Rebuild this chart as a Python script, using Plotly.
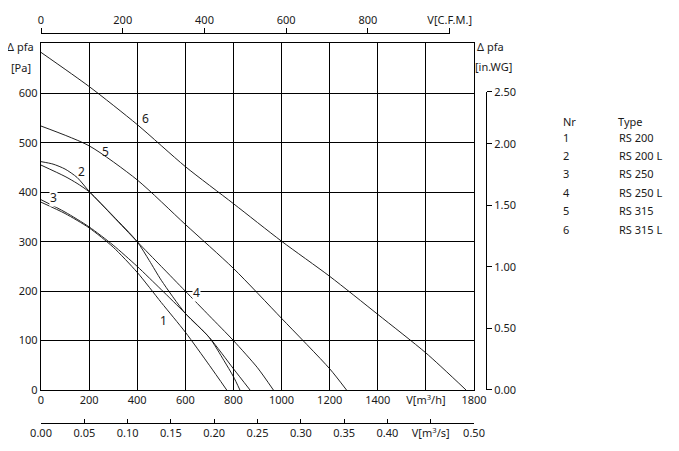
import plotly.graph_objects as go

# fan curves: volume flow V [m3/h] against static pressure rise [Pa]
flow_1 = [0, 100, 200, 300, 400, 500, 600, 700, 772]
dp_1 = [380, 357, 328, 289, 238, 177, 117, 50, 0]
flow_2 = [0, 50, 100, 150, 200, 300, 400, 450, 500, 600, 700, 760, 800, 827]
dp_2 = [462, 457, 447, 430, 402, 352, 300, 262, 222, 155, 106, 60, 27, 0]
flow_3 = [0, 100, 200, 300, 400, 500, 600, 700, 800, 869]
dp_3 = [385, 360, 330, 293, 250, 203, 155, 106, 43, 0]
flow_4 = [0, 100, 150, 200, 300, 400, 500, 600, 700, 800, 900, 966]
dp_4 = [455, 432, 418, 401, 351, 300, 250, 200, 150, 100, 45, 0]
flow_5 = [0, 200, 400, 600, 800, 1000, 1200, 1270]
dp_5 = [534, 494, 425, 335, 246, 145, 43, 0]
flow_6 = [0, 200, 400, 600, 800, 1000, 1200, 1400, 1600, 1767]
dp_6 = [683, 614, 537, 452, 377, 301, 230, 153, 75, 0]

curve_nr = ["1", "2", "3", "4", "5", "6"]
curve_type = ["RS 200", "RS 200 L", "RS 250", "RS 250 L", "RS 315", "RS 315 L"]

# axes
flow_ticks = [0, 200, 400, 600, 800, 1000, 1200, 1400, 1600, 1800]
flow_text = ["0", "200", "400", "600", "800", "1000", "1200", "1400", "V[m<sup>3</sup>/h]", "1800"]
dp_ticks = [0, 100, 200, 300, 400, 500, 600]
cfm_ticks = [0, 200, 400, 600, 800, 1000]
cfm_text = ["0", "200", "400", "600", "800", "V[C.F.M.]"]
m3s_ticks = [0, 0.05, 0.10, 0.15, 0.20, 0.25, 0.30, 0.35, 0.40, 0.45, 0.50]
m3s_text = ["0.00", "0.05", "0.10", "0.15", "0.20", "0.25", "0.30", "0.35", "0.40", "V[m<sup>3</sup>/s]", "0.50"]
inwg_ticks = [0, 0.5, 1.0, 1.5, 2.0, 2.5]
inwg_text = ["0.00", "0.50", "1.00", "1.50", "2.00", "2.50"]

FLOW_MAX = 1800
DP_MAX = 702
CFM_PER_M3H = 0.5886
PA_PER_INWG = 249.1
INWG_AXIS_TOP = 603  # Pa level where the in.WG scale ends (2.50 tick)

FONT = "Noto Sans"
INK = "#1a1a1a"

# the page body adds an 8px margin, so the figure is 8px smaller each way
# paper = 449 x 390 px, starting at page pixel (41, 33)
W, H = 449, 390
x_main = [0, 433 / W]
y_main = [33 / H, 380 / H]

fig = go.Figure()

curves = [(flow_1, dp_1), (flow_2, dp_2), (flow_3, dp_3),
          (flow_4, dp_4), (flow_5, dp_5), (flow_6, dp_6)]
for (f, p), nr in zip(curves, curve_nr):
    fig.add_trace(go.Scatter(x=f, y=p, mode="lines", name=nr,
                             line=dict(color="#222222", width=1, shape="spline", smoothing=0.7),
                             hoverinfo="x+y", showlegend=False))

# invisible traces so the secondary scales get drawn
for xa, ya in [("x2", "y"), ("x3", "y"), ("x", "y2")]:
    fig.add_trace(go.Scatter(x=[0], y=[0], xaxis=xa, yaxis=ya, mode="markers",
                             marker=dict(opacity=0), hoverinfo="skip", showlegend=False))

cfm_len = (x_main[1] - x_main[0]) * cfm_ticks[-1] / (FLOW_MAX * CFM_PER_M3H)
inwg_len = (y_main[1] - y_main[0]) * INWG_AXIS_TOP / DP_MAX
inwg_pos = [v * PA_PER_INWG for v in inwg_ticks[:-1]] + [INWG_AXIS_TOP]

tickfont = dict(family=FONT, size=11, color=INK)

fig.update_layout(
    width=671, height=443,
    margin=dict(l=33, r=189, t=25, b=28, autoexpand=False),
    paper_bgcolor="white", plot_bgcolor="rgba(0,0,0,0)",
    font=dict(family=FONT, size=11, color=INK),
    xaxis=dict(domain=x_main, range=[0, FLOW_MAX], tickvals=flow_ticks, ticktext=flow_text,
               showgrid=True, gridcolor="black", gridwidth=1, zeroline=False,
               showline=True, linecolor="black", linewidth=1.3, mirror=True,
               ticks="", tickfont=tickfont, fixedrange=True, automargin=False),
    yaxis=dict(domain=y_main, range=[0, DP_MAX], tickvals=dp_ticks,
               showgrid=True, gridcolor="black", gridwidth=1, zeroline=False,
               showline=True, linecolor="black", linewidth=1.3, mirror=True,
               ticks="", tickfont=tickfont, fixedrange=True, automargin=False),
    xaxis2=dict(domain=[0, cfm_len], range=[0, cfm_ticks[-1]], anchor="free", position=1,
                side="top", tickvals=cfm_ticks, ticktext=cfm_text,
                showgrid=False, zeroline=False, showline=True, linecolor="black", linewidth=1.2,
                ticks="outside", ticklen=5, tickcolor="black", tickfont=tickfont,
                fixedrange=True, automargin=False),
    xaxis3=dict(domain=x_main, range=[0, FLOW_MAX / 3600], anchor="free", position=0,
                side="bottom", tickvals=m3s_ticks, ticktext=m3s_text,
                showgrid=False, zeroline=False, showline=True, linecolor="black", linewidth=1.2,
                ticks="inside", ticklen=4, tickcolor="black", tickfont=tickfont,
                fixedrange=True, automargin=False),
    yaxis2=dict(domain=[y_main[0], y_main[0] + inwg_len], range=[0, INWG_AXIS_TOP],
                anchor="free", position=(486 - 41) / W, side="right",
                tickvals=inwg_pos, ticktext=inwg_text,
                showgrid=False, zeroline=False, showline=True, linecolor="black", linewidth=1.2,
                ticks="outside", ticklen=5, tickcolor="black", tickfont=tickfont,
                fixedrange=True, automargin=False),
)

ann = []
# curve numbers, placed beside each curve (data units)
label_at = {"6": (436, 549), "5": (270, 482), "2": (170, 443),
            "3": (50, 389), "4": (648, 198), "1": (511, 140)}
for nr in curve_nr:
    lx, ly = label_at[nr]
    a = dict(x=lx, y=ly, xref="x", yref="y", text=nr, showarrow=False,
             font=dict(family=FONT, size=12, color=INK))
    if nr in ("3", "4"):
        a.update(bgcolor="white", borderpad=0)
    ann.append(a)

# axis captions (positions given in page pixels)
px = lambda v: (v - 41) / W
py = lambda v: (423 - v) / H
ann += [
    dict(x=px(36), y=py(47), text="Δ pfa", xanchor="right"),
    dict(x=px(33), y=py(67), text="[Pa]", xanchor="right"),
    dict(x=px(475), y=py(47), text="Δ pfa", xanchor="left"),
    dict(x=px(473), y=py(66), text="[in.WG]", xanchor="left"),
]
for a in ann[-4:]:
    a.update(xref="paper", yref="paper", showarrow=False, yanchor="middle",
             font=dict(family=FONT, size=11, color=INK))

# table of types
ann.append(dict(x=px(561), y=py(122), text="Nr", xanchor="left"))
ann.append(dict(x=px(616), y=py(122), text="Type", xanchor="left"))
for i, (nr, tp) in enumerate(zip(curve_nr, curve_type)):
    ann.append(dict(x=px(561), y=py(137 + i * 18.4), text=nr, xanchor="left"))
    ann.append(dict(x=px(617), y=py(137 + i * 18.4), text=tp, xanchor="left"))
for a in ann[-14:]:
    a.update(xref="paper", yref="paper", showarrow=False, yanchor="middle",
             font=dict(family=FONT, size=11, color=INK))

fig.update_layout(annotations=ann)

fig.write_html("out.html")
